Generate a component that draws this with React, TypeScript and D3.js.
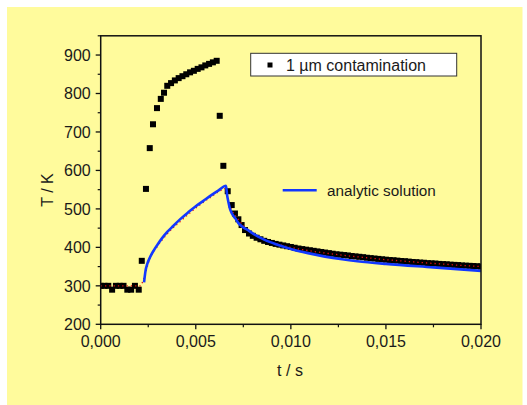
import React from 'react';
import * as d3 from 'd3';

const dataT = [
  0, 0.0002, 0.0004, 0.0006, 0.0008, 0.001, 0.0012, 0.0014, 0.0016, 0.0018, 0.002,
  0.00216, 0.00238, 0.00258, 0.00275, 0.00296, 0.00316, 0.00333,
  0.0035, 0.0037, 0.0039, 0.0041, 0.0043, 0.0045, 0.0047, 0.0049, 0.0051, 0.0053, 0.0055, 0.0057, 0.0059, 0.0061,
  0.00626, 0.00645, 0.00668, 0.00689, 0.00706, 0.00724, 0.00741, 0.00759, 0.0078,
  0.008, 0.0082, 0.0084, 0.0086, 0.0088, 0.009, 0.0092, 0.0094, 0.0096, 0.0098,
  0.01, 0.0102, 0.0104, 0.0106, 0.0108, 0.011, 0.0112, 0.0114, 0.0116, 0.0118,
  0.012, 0.0122, 0.0124, 0.0126, 0.0128, 0.013, 0.0132, 0.0134, 0.0136, 0.0138,
  0.014, 0.0142, 0.0144, 0.0146, 0.0148, 0.015, 0.0152, 0.0154, 0.0156, 0.0158,
  0.016, 0.0162, 0.0164, 0.0166, 0.0168, 0.017, 0.0172, 0.0174, 0.0176, 0.0178,
  0.018, 0.0182, 0.0184, 0.0186, 0.0188, 0.019, 0.0192, 0.0194, 0.0196, 0.0198, 0.02,
];
const dataK = [
  300, 300, 300, 290, 300, 300, 300, 290, 290, 300, 290,
  365, 552, 658, 720, 762, 786, 802,
  820, 827, 834, 840, 845, 850, 855, 859, 864, 868, 873, 877, 881, 885,
  742, 612, 546, 510, 488, 473, 458, 445, 436,
  430, 425, 421, 417, 414, 411.5, 409, 407, 405, 403,
  401, 399, 397, 395.5, 394, 392.5, 391, 389.5, 388, 386.5,
  385, 383.5, 382, 381, 380, 379, 377.5, 376.5, 375.5, 374.5,
  373, 372, 371, 370, 369, 368, 367, 366.5, 365.5, 364.5,
  364, 363, 362, 361.5, 360.5, 360, 359, 358.5, 358, 357,
  356.5, 356, 355, 354.5, 354, 353, 352.5, 352, 351.5, 351, 350,
];

const analyticT = [
  0.00228, 0.00236, 0.00245, 0.0026, 0.0028, 0.003, 0.0032, 0.0035, 0.0038, 0.0042, 0.0046,
  0.005, 0.0054, 0.0058, 0.0062, 0.00659,
  0.00665, 0.00671, 0.0068, 0.0069, 0.0071, 0.00724, 0.0075, 0.0078, 0.0081, 0.0086,
  0.0093, 0.01, 0.0109, 0.0118, 0.0127, 0.0135, 0.015, 0.0175, 0.02,
];
const analyticK = [
  309, 340, 357, 375, 393, 408, 422, 440, 455, 474, 491,
  507, 521, 535, 548, 560,
  535, 519, 500, 488, 474, 463, 452, 443, 433, 420,
  407, 396, 385, 376, 369, 364, 357, 348, 339,
];

const fitT = [
  0, 0.0021, 0.00225, 0.0026, 0.003, 0.0035, 0.0042, 0.005, 0.0058, 0.0064, 0.00655,
  0.0067, 0.0069, 0.0072, 0.0076, 0.008, 0.0085, 0.009, 0.0095, 0.01,
  0.011, 0.012, 0.013, 0.014, 0.015, 0.016, 0.017, 0.018, 0.019, 0.02,
];
const fitK = [
  300, 300, 318, 372, 404, 435, 468, 502, 531, 550, 553,
  520, 496, 475, 452, 436, 423, 413, 406, 400,
  391, 384, 378, 373, 368, 364, 360, 356.5, 353, 350,
];

const xMajor = [0, 0.005, 0.01, 0.015, 0.02];
const xMinor = [0.0025, 0.0075, 0.0125, 0.0175];
const yMajor = [200, 300, 400, 500, 600, 700, 800, 900];
const yMinor = [250, 350, 450, 550, 650, 750, 850, 950];

const seriesLabel = '1 µm contamination';
const analyticLabel = 'analytic solution';
const xTitle = 't / s';
const yTitle = 'T / K';

export default function App() {
  const left = 100.7, right = 481, top = 35.8, bottom = 324.3;
  const x = d3.scaleLinear().domain([0, 0.02]).range([left, right]);
  const y = d3.scaleLinear().domain([200, 950]).range([bottom, top]);
  const fmt = (v: number) => d3.format('.3f')(v).replace('.', ',');
  const font = '"Liberation Sans", Arial, sans-serif';
  const textColor = '#1a1a1a';

  const line = d3.line<number>().x((_, i) => 0).y(() => 0);
  const mk = (ts: number[], ks: number[], curve: any) =>
    d3.line<[number, number]>().x(d => x(d[0])).y(d => y(d[1])).curve(curve)(ts.map((t, i) => [t, ks[i]]) as [number, number][]) || '';
  void line;

  const analyticPath = mk(analyticT, analyticK, d3.curveMonotoneX);
  const fitPath = mk(fitT, fitK, d3.curveMonotoneX);
  const sq = 6;

  return (
    <svg width={527} height={405} style={{ position: 'absolute', left: 0, top: 0 }}>
      <rect x={0} y={0} width={527} height={405} fill="#ffffff" />
      <rect x={7} y={7} width={515.5} height={398} fill="#fffb9c" />
      <defs>
        <clipPath id="plot">
          <rect x={left} y={top} width={right - left} height={bottom - top} />
        </clipPath>
      </defs>
      <g clipPath="url(#plot)">
        {dataT.map((t, i) => (
          <rect key={i} x={x(t) - sq / 2} y={y(dataK[i]) - sq / 2} width={sq} height={sq} fill="#000" />
        ))}
        <path d={fitPath} fill="none" stroke="#e01010" strokeWidth={1.3} strokeDasharray="1.3,3" />
        <path d={analyticPath} fill="none" stroke="#1238ff" strokeWidth={2.6} strokeLinejoin="round" />
      </g>
      {/* frame */}
      <rect x={left} y={top} width={right - left} height={bottom - top} fill="none" stroke="#111" strokeWidth={1.5} />
      {/* x ticks */}
      {xMajor.map(v => (
        <g key={'xm' + v}>
          <line x1={x(v)} x2={x(v)} y1={bottom} y2={bottom + 5} stroke="#111" strokeWidth={1.3} />
          <text x={x(v)} y={bottom + 23} textAnchor="middle" fontFamily={font} fontSize={16} fill={textColor}>{fmt(v)}</text>
        </g>
      ))}
      {xMinor.map(v => (
        <line key={'xn' + v} x1={x(v)} x2={x(v)} y1={bottom} y2={bottom + 3} stroke="#111" strokeWidth={1.2} />
      ))}
      {/* y ticks */}
      {yMajor.map(v => (
        <g key={'ym' + v}>
          <line x1={left - 5} x2={left} y1={y(v)} y2={y(v)} stroke="#111" strokeWidth={1.3} />
          <text x={left - 10} y={y(v)} dy="0.36em" textAnchor="end" fontFamily={font} fontSize={16} fill={textColor}>{v}</text>
        </g>
      ))}
      {yMinor.map(v => (
        <line key={'yn' + v} x1={left - 3} x2={left} y1={y(v)} y2={y(v)} stroke="#111" strokeWidth={1.2} />
      ))}
      {/* axis titles */}
      <text x={290} y={376} textAnchor="middle" fontFamily={font} fontSize={16} fill={textColor}>{xTitle}</text>
      <text transform="translate(53,190) rotate(-90)" textAnchor="middle" fontFamily={font} fontSize={16} fill={textColor}>{yTitle}</text>
      {/* legend box */}
      <rect x={250.7} y={53.3} width={206} height={22.7} fill="#ffffff" stroke="#333" strokeWidth={1} />
      <rect x={267.5} y={62.5} width={5} height={5} fill="#000" />
      <text x={286} y={70.7} fontFamily={font} fontSize={16} fill={textColor}>{seriesLabel}</text>
      {/* analytic label */}
      <line x1={282.7} x2={316.7} y1={190.3} y2={190.3} stroke="#1238ff" strokeWidth={2.6} />
      <text x={327} y={195.5} fontFamily={font} fontSize={15.3} fill={textColor}>{analyticLabel}</text>
    </svg>
  );
}
